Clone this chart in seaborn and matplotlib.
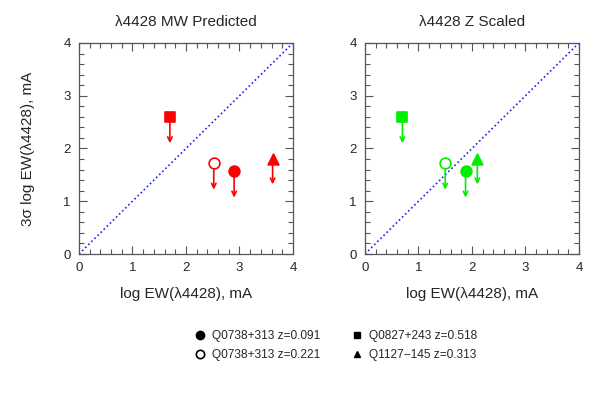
import matplotlib
matplotlib.use("Agg")
import matplotlib.pyplot as plt
from matplotlib.ticker import MultipleLocator
from matplotlib.lines import Line2D
import seaborn as sns
import pandas as pd

sns.set_theme(style="white")
plt.rcParams['font.family'] = ['Liberation Sans', 'DejaVu Sans']

# Data
labels = ["Q0738+313 z=0.091", "Q0738+313 z=0.221", "Q0827+243 z=0.518", "Q1127\u2212145 z=0.313"]
markers = ["o", "o", "s", "^"]
filled = [True, False, True, True]
x_mw = [2.90, 2.52, 1.70, 3.62]
x_z = [1.88, 1.50, 0.70, 2.10]
y_lim = [1.57, 1.72, 2.60, 1.80]
arrow_len = [0.50, 0.50, 0.50, 0.48]

panels = [
    ("\u03bb4428 MW Predicted", x_mw, "#ff0000"),
    ("\u03bb4428 Z Scaled", x_z, "#00ee00"),
]

fig = plt.figure(figsize=(6.01, 3.97), dpi=100)
axes_pos = [[0.1314, 0.3602, 0.356, 0.5315], [0.6073, 0.3602, 0.356, 0.5315]]

for i, (title, xs, col) in enumerate(panels):
    ax = fig.add_axes(axes_pos[i])
    ax.set_xlim(0, 4)
    ax.set_ylim(0, 4)
    # diagonal
    ax.plot([0, 4], [0, 4], color="#2222ee", linestyle=(0, (1, 1.6)), lw=1.2, zorder=1)
    for j in range(len(xs)):
        ax.annotate("", xy=(xs[j], y_lim[j] - arrow_len[j]), xytext=(xs[j], y_lim[j]),
                    arrowprops=dict(arrowstyle="->", color=col, lw=1.2,
                                    shrinkA=0, shrinkB=0, mutation_scale=8), zorder=2)
        sns.scatterplot(x=[xs[j]], y=[y_lim[j]], ax=ax, marker=markers[j],
                        s=60 if markers[j] != "s" else 50,
                        color=col if filled[j] else "white",
                        edgecolor=col, linewidth=1.2, zorder=3, legend=False)
    ax.set_title(title, fontsize=11, pad=12)
    ax.set_xlabel("log EW(\u03bb4428), mA", fontsize=11, labelpad=9)
    if i == 0:
        ax.set_ylabel("3\u03c3 log EW(\u03bb4428), mA", fontsize=11, labelpad=20)
    else:
        ax.set_ylabel("")
    ax.xaxis.set_major_locator(MultipleLocator(1))
    ax.yaxis.set_major_locator(MultipleLocator(1))
    ax.xaxis.set_minor_locator(MultipleLocator(0.2))
    ax.yaxis.set_minor_locator(MultipleLocator(0.2))
    ax.tick_params(which="both", direction="in", top=True, right=True, bottom=True, left=True,
                   color="#555555", labelsize=9.5, pad=6)
    ax.tick_params(which="major", length=6, width=0.8)
    ax.tick_params(which="minor", length=3.5, width=0.8)
    for sp in ax.spines.values():
        sp.set_color("#555555")
        sp.set_linewidth(0.9)

# Legend
handles = [
    Line2D([], [], marker="o", linestyle="", color="black", markerfacecolor="black", markersize=6),
    Line2D([], [], marker="o", linestyle="", color="black", markerfacecolor="white", markersize=6, markeredgewidth=1.2),
    Line2D([], [], marker="s", linestyle="", color="black", markerfacecolor="black", markersize=4),
    Line2D([], [], marker="^", linestyle="", color="black", markerfacecolor="black", markersize=5),
]
fig.legend(handles, labels, loc="center", bbox_to_anchor=(0.56, 0.13), ncol=2, frameon=False,
           fontsize=8.6, handlelength=0.8, handletextpad=0.6, columnspacing=2.7, labelspacing=0.6)

fig.savefig("out.png", dpi=100)
